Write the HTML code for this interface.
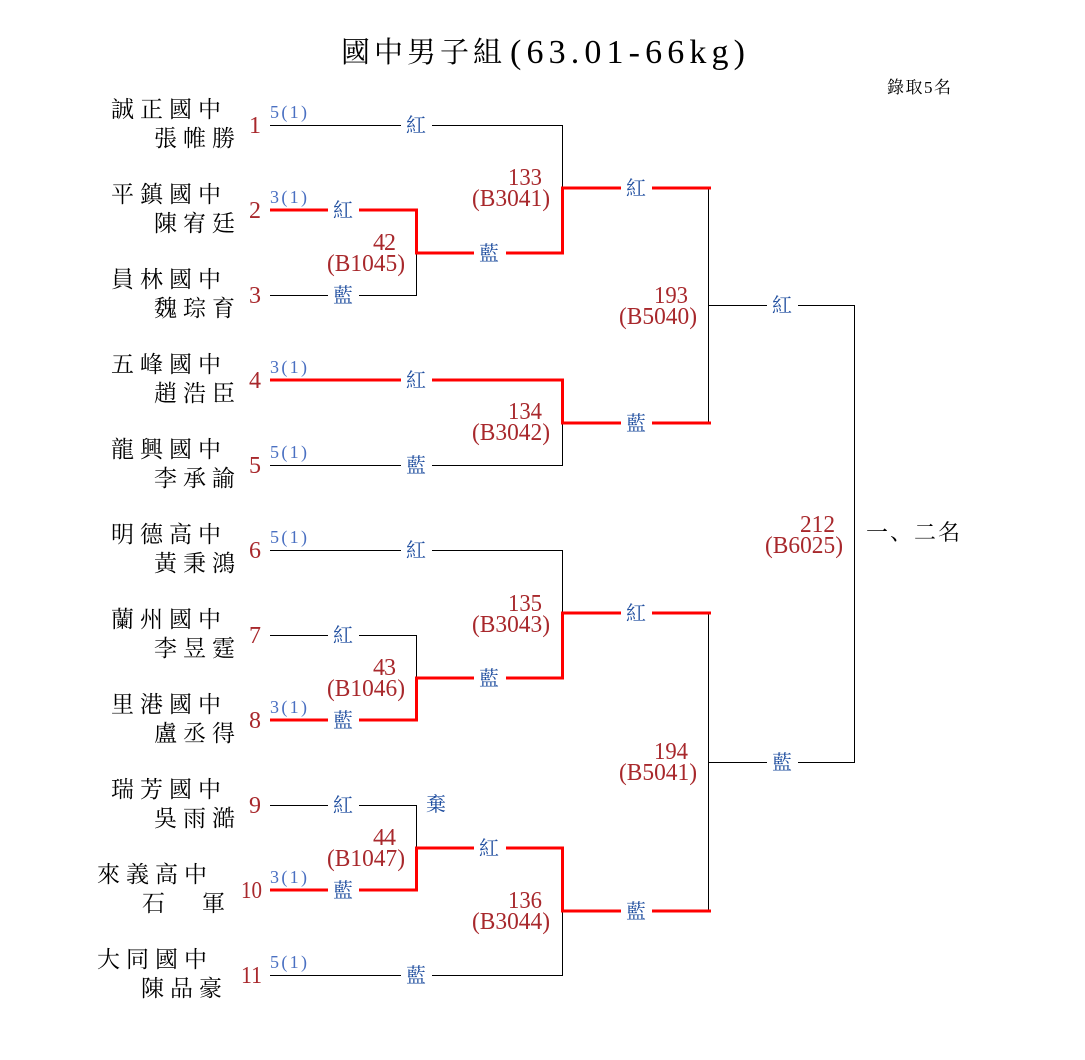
<!DOCTYPE html>
<html><head><meta charset="utf-8"><style>
html,body{margin:0;padding:0;background:#fff;}
svg{display:block;}
.cj{font-family:"Liberation Serif","Noto Serif CJK SC","Noto Serif CJK TC",serif;}
.nm{font-family:"Liberation Serif","Noto Serif CJK SC",serif;font-size:23px;fill:#000;letter-spacing:6px;}
.lb{font-family:"Liberation Serif","Noto Serif CJK SC",serif;font-size:20px;fill:#1d4c9e;text-anchor:middle;}
.sd{font-family:"Liberation Serif",serif;font-size:18px;fill:#4a70c2;}
.en{font-family:"Liberation Serif",serif;font-size:24px;fill:#a8282c;text-anchor:end;}
.mn{font-family:"Liberation Serif",serif;font-size:24px;fill:#a8282c;text-anchor:end;}
</style></head><body>
<svg width="1085" height="1060" viewBox="0 0 1085 1060" xmlns="http://www.w3.org/2000/svg">
<rect width="1085" height="1060" fill="#fff"/>

<!-- title -->
<text x="341" y="62" class="cj" font-size="29" letter-spacing="4" fill="#000">國中男子組</text>
<text x="510" y="63" font-family="Liberation Serif, serif" font-size="34" fill="#000" textLength="235" lengthAdjust="spacing">(63.01-66kg)</text>
<text x="887" y="93" class="cj" font-size="17" letter-spacing="1.5" fill="#000">錄取5名</text>

<!-- black lines -->
<g stroke="#000" stroke-width="1" fill="none">
<path d="M270 125.5H562.5V188"/>
<path d="M270 295.5H416.5V253"/>
<path d="M270 465.5H562.5V423"/>
<path d="M270 550.5H562.5V613"/>
<path d="M270 635.5H416.5V678"/>
<path d="M270 805.5H416.5V848"/>
<path d="M270 975.5H562.5V911"/>
<path d="M708.5 188V423"/>
<path d="M708.5 613V911"/>
<path d="M708.5 305.5H854.5V762.5H708.5"/>
</g>

<!-- red winner paths -->
<g stroke="#ff0000" stroke-width="3" fill="none" stroke-linejoin="miter">
<path d="M270 210H416.5V253H562.5V188H711"/>
<path d="M270 380H562.5V423H711"/>
<path d="M270 720H416.5V678H562.5V613H711"/>
<path d="M270 890H416.5V848H562.5V911H711"/>
</g>

<!-- label gaps -->
<g fill="#fff">
<rect x="401" y="115" width="31" height="20"/>
<rect x="401" y="370" width="31" height="20"/>
<rect x="401" y="455" width="31" height="20"/>
<rect x="401" y="540" width="31" height="20"/>
<rect x="401" y="965" width="31" height="20"/>
<rect x="328" y="200" width="31" height="20"/>
<rect x="328" y="285" width="31" height="20"/>
<rect x="328" y="625" width="31" height="20"/>
<rect x="328" y="710" width="31" height="20"/>
<rect x="328" y="795" width="31" height="20"/>
<rect x="328" y="880" width="31" height="20"/>
<rect x="474" y="243" width="32" height="20"/>
<rect x="474" y="668" width="32" height="20"/>
<rect x="474" y="838" width="32" height="20"/>
<rect x="621" y="178" width="31" height="20"/>
<rect x="621" y="413" width="31" height="20"/>
<rect x="621" y="603" width="31" height="20"/>
<rect x="621" y="901" width="31" height="20"/>
<rect x="767" y="295" width="31" height="20"/>
<rect x="767" y="752" width="31" height="20"/>
</g>

<!-- corner labels -->
<g class="lb">
<text x="416" y="132" class="lb">紅</text>
<text x="416" y="387" class="lb">紅</text>
<text x="416" y="472" class="lb">藍</text>
<text x="416" y="557" class="lb">紅</text>
<text x="416" y="982" class="lb">藍</text>
<text x="343" y="217" class="lb">紅</text>
<text x="343" y="302" class="lb">藍</text>
<text x="343" y="642" class="lb">紅</text>
<text x="343" y="727" class="lb">藍</text>
<text x="343" y="812" class="lb">紅</text>
<text x="343" y="897" class="lb">藍</text>
<text x="489" y="260" class="lb">藍</text>
<text x="489" y="685" class="lb">藍</text>
<text x="489" y="855" class="lb">紅</text>
<text x="636" y="195" class="lb">紅</text>
<text x="636" y="430" class="lb">藍</text>
<text x="636" y="620" class="lb">紅</text>
<text x="636" y="918" class="lb">藍</text>
<text x="782" y="312" class="lb">紅</text>
<text x="782" y="769" class="lb">藍</text>
<text x="436" y="811" class="lb" font-size="21">棄</text>
</g>

<!-- seeds -->
<text x="270" y="118" class="sd" textLength="37" lengthAdjust="spacing">5(1)</text>
<text x="270" y="203" class="sd" textLength="37" lengthAdjust="spacing">3(1)</text>
<text x="270" y="373" class="sd" textLength="37" lengthAdjust="spacing">3(1)</text>
<text x="270" y="458" class="sd" textLength="37" lengthAdjust="spacing">5(1)</text>
<text x="270" y="543" class="sd" textLength="37" lengthAdjust="spacing">5(1)</text>
<text x="270" y="713" class="sd" textLength="37" lengthAdjust="spacing">3(1)</text>
<text x="270" y="883" class="sd" textLength="37" lengthAdjust="spacing">3(1)</text>
<text x="270" y="968" class="sd" textLength="37" lengthAdjust="spacing">5(1)</text>

<!-- entry numbers -->
<text x="261" y="133" class="en">1</text>
<text x="261" y="218" class="en">2</text>
<text x="261" y="303" class="en">3</text>
<text x="261" y="388" class="en">4</text>
<text x="261" y="473" class="en">5</text>
<text x="261" y="558" class="en">6</text>
<text x="261" y="643" class="en">7</text>
<text x="261" y="728" class="en">8</text>
<text x="261" y="813" class="en">9</text>
<text x="262" y="898" class="en" textLength="21" lengthAdjust="spacingAndGlyphs">10</text>
<text x="262" y="983" class="en" textLength="21" lengthAdjust="spacingAndGlyphs">11</text>

<!-- names -->
<text x="111" y="117" class="nm">誠正國中</text><text x="154" y="146" class="nm">張帷勝</text>
<text x="111" y="202" class="nm">平鎮國中</text><text x="154" y="231" class="nm">陳宥廷</text>
<text x="111" y="287" class="nm">員林國中</text><text x="154" y="316" class="nm">魏琮育</text>
<text x="111" y="372" class="nm">五峰國中</text><text x="154" y="401" class="nm">趙浩臣</text>
<text x="111" y="457" class="nm">龍興國中</text><text x="154" y="486" class="nm">李承諭</text>
<text x="111" y="542" class="nm">明德高中</text><text x="154" y="571" class="nm">黃秉鴻</text>
<text x="111" y="627" class="nm">蘭州國中</text><text x="154" y="656" class="nm">李昱霆</text>
<text x="111" y="712" class="nm">里港國中</text><text x="154" y="741" class="nm">盧丞得</text>
<text x="111" y="797" class="nm">瑞芳國中</text><text x="154" y="826" class="nm">吳雨澔</text>
<text x="97" y="882" class="nm">來義高中</text><text x="142" y="911" class="nm">石</text><text x="202" y="911" class="nm">軍</text>
<text x="97" y="967" class="nm">大同國中</text><text x="141" y="996" class="nm">陳品豪</text>

<!-- match numbers -->
<text x="396" y="250" class="mn" textLength="23">42</text>
<text x="405" y="271" class="mn" textLength="78" lengthAdjust="spacingAndGlyphs">(B1045)</text>
<text x="396" y="675" class="mn" textLength="23">43</text>
<text x="405" y="696" class="mn" textLength="78" lengthAdjust="spacingAndGlyphs">(B1046)</text>
<text x="396" y="845" class="mn" textLength="23">44</text>
<text x="405" y="866" class="mn" textLength="78" lengthAdjust="spacingAndGlyphs">(B1047)</text>

<text x="542" y="185" class="mn" textLength="34" lengthAdjust="spacingAndGlyphs">133</text>
<text x="550" y="206" class="mn" textLength="78" lengthAdjust="spacingAndGlyphs">(B3041)</text>
<text x="542" y="419" class="mn" textLength="34" lengthAdjust="spacingAndGlyphs">134</text>
<text x="550" y="440" class="mn" textLength="78" lengthAdjust="spacingAndGlyphs">(B3042)</text>
<text x="542" y="611" class="mn" textLength="34" lengthAdjust="spacingAndGlyphs">135</text>
<text x="550" y="632" class="mn" textLength="78" lengthAdjust="spacingAndGlyphs">(B3043)</text>
<text x="542" y="908" class="mn" textLength="34" lengthAdjust="spacingAndGlyphs">136</text>
<text x="550" y="929" class="mn" textLength="78" lengthAdjust="spacingAndGlyphs">(B3044)</text>

<text x="688" y="303" class="mn" textLength="34" lengthAdjust="spacingAndGlyphs">193</text>
<text x="697" y="324" class="mn" textLength="78" lengthAdjust="spacingAndGlyphs">(B5040)</text>
<text x="688" y="759" class="mn" textLength="34" lengthAdjust="spacingAndGlyphs">194</text>
<text x="697" y="780" class="mn" textLength="78" lengthAdjust="spacingAndGlyphs">(B5041)</text>

<text x="835" y="532" class="mn" textLength="35" lengthAdjust="spacingAndGlyphs">212</text>
<text x="843" y="553" class="mn" textLength="78" lengthAdjust="spacingAndGlyphs">(B6025)</text>

<text x="866" y="540" class="cj" font-size="22" letter-spacing="2" fill="#000">一、二名</text>
</svg>
</body></html>
